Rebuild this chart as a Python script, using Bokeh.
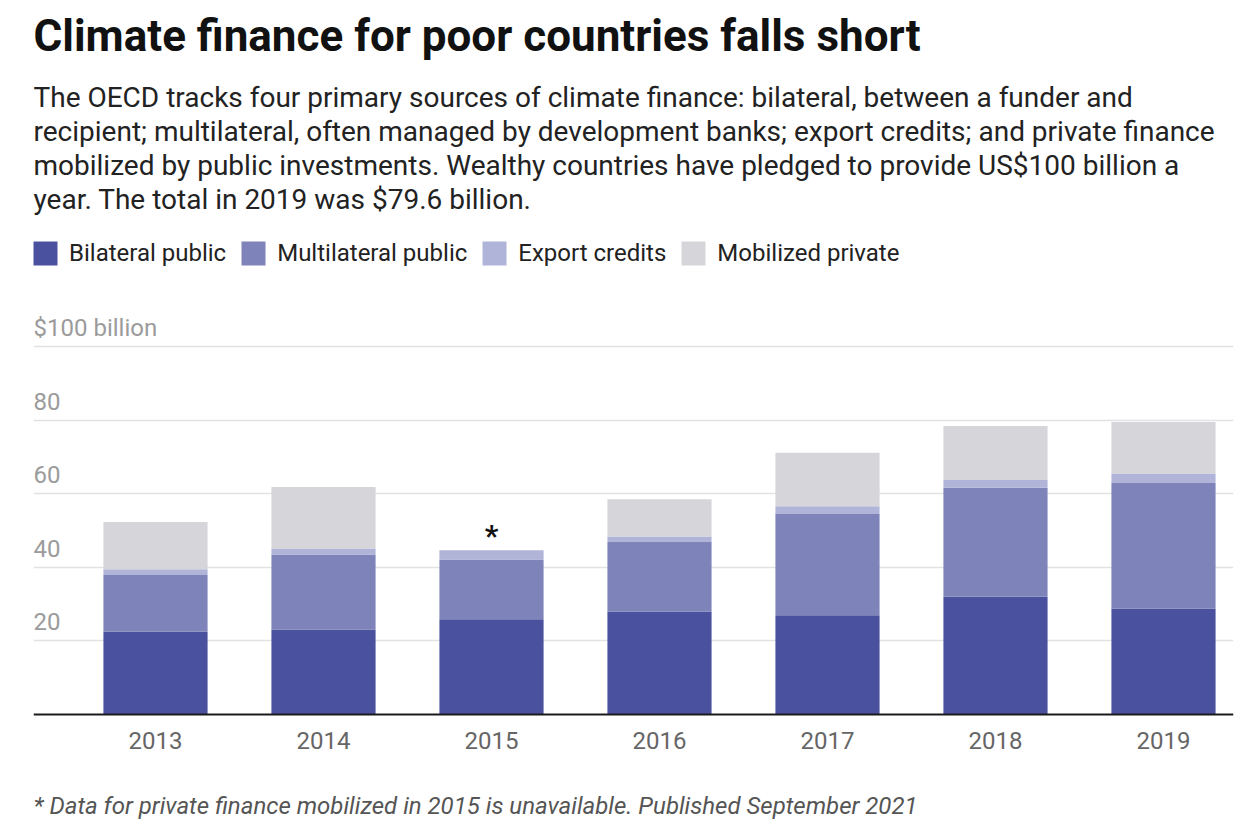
from bokeh.plotting import figure
from bokeh.models import (Range1d, FixedTicker, Label, Legend, LegendItem, Span)
from bokeh.core.properties import value
from bokeh.embed import file_html
from bokeh.resources import INLINE

# ---- data ----
years = [2013, 2014, 2015, 2016, 2017, 2018, 2019]
year_labels = ["2013", "2014", "2015", "2016", "2017", "2018", "2019"]
bilateral = [22.5, 23.1, 25.9, 28.0, 27.0, 32.0, 28.8]
multilateral = [15.4, 20.4, 16.2, 18.9, 27.5, 29.6, 34.1]
export_credits = [1.6, 1.6, 2.5, 1.5, 2.1, 2.1, 2.6]
mobilized_private = [12.8, 16.7, 0.0, 10.1, 14.5, 14.7, 14.0]
series_names = ["Bilateral public", "Multilateral public", "Export credits", "Mobilized private"]
series_keys = ["bilateral", "multilateral", "export", "private"]
colors = ["#4a519e", "#7e83b9", "#b0b4d8", "#d6d6da"]
y_ticks = [20, 40, 60, 80, 100]
y_tick_labels = ["20", "40", "60", "80", "$100 billion"]

title_text = "Climate finance for poor countries falls short"
subtitle_lines = [
    "The OECD tracks four primary sources of climate finance: bilateral, between a funder and",
    "recipient; multilateral, often managed by development banks; export credits; and private finance",
    "mobilized by public investments. Wealthy countries have pledged to provide US$100 billion a",
    "year. The total in 2019 was $79.6 billion.",
]
footnote_text = "* Data for private finance mobilized in 2015 is unavailable. Published September 2021"

FONT = "Roboto"
H = 826          # canvas height
BASE = 714       # page y of the zero line
PX = 3.68        # pixels per billion

data = dict(year=years, bilateral=bilateral, multilateral=multilateral,
            export=export_credits, private=mobilized_private)

p = figure(width=1258, height=H, output_backend="svg", toolbar_location=None,
           title=None,
           x_range=Range1d(2012.2738, 2019.4167),
           y_range=Range1d(-(H - BASE) / PX, BASE / PX),
           min_border_left=33, min_border_right=25, min_border_top=0,
           min_border_bottom=0, outline_line_color=None, tools="")

renderers = p.vbar_stack(series_keys, x="year", width=0.62, color=colors,
                         line_color=None, source=data)

# axes hidden; grid at fixed values
p.xaxis.visible = False
p.yaxis.visible = False
p.xgrid.visible = False
p.ygrid.ticker = FixedTicker(ticks=y_ticks)
p.ygrid.grid_line_color = "#e2e2e2"
p.ygrid.grid_line_width = 1.5

# zero baseline
p.add_layout(Span(location=0, dimension="width", line_color="#1a1a1a", line_width=2))

# category labels under the baseline
p.text(x=years, y=[0] * len(years), text=year_labels,
       text_font=value(FONT), text_font_size="24px", text_color="#666666",
       text_baseline="alphabetic", text_align="center", y_offset=26)

# y tick labels drawn inside the plot above gridlines
p.text(x=[p.x_range.start] * len(y_ticks), y=y_ticks, text=y_tick_labels,
       text_font=value(FONT), text_font_size="24px", text_color="#9b9b9b",
       text_baseline="alphabetic", text_align="left", y_offset=-19)

# asterisk above 2015
totals = [b + m + e + pr for b, m, e, pr in zip(bilateral, multilateral, export_credits, mobilized_private)]
p.text(x=[years[2]], y=[totals[2]], text=["*"], text_font=value(FONT),
       text_font_size="30px", text_font_style="bold", text_color="#111111",
       text_align="center", text_baseline="alphabetic", y_offset=-15)

# legend
legend = Legend(items=[LegendItem(label=n, renderers=[r]) for n, r in zip(series_names, renderers)],
                orientation="horizontal", location=(-3, H - 268),
                glyph_width=30, glyph_height=30, label_standoff=9, spacing=12,
                padding=0, margin=0, border_line_color=None, background_fill_alpha=0,
                label_text_font=FONT, label_text_font_size="24px", label_text_color="#222222")
p.add_layout(legend)

# title / subtitle / footnote
p.add_layout(Label(x=0, y=H - 35.5, x_units="screen", y_units="screen", text=title_text,
                   text_font=FONT, text_font_size="44px", text_font_style="bold",
                   text_color="#111111", text_baseline="alphabetic"))
for i, line in enumerate(subtitle_lines):
    p.add_layout(Label(x=0, y=H - 97 - 34 * i, x_units="screen", y_units="screen", text=line,
                       text_font=FONT, text_font_size="28px", text_color="#222222",
                       text_baseline="alphabetic"))
p.add_layout(Label(x=0, y=H - 805, x_units="screen", y_units="screen", text=footnote_text,
                   text_font=FONT, text_font_size="24px", text_font_style="italic",
                   text_color="#555555", text_baseline="alphabetic"))

open("out.html", "w").write(file_html(p, INLINE))
